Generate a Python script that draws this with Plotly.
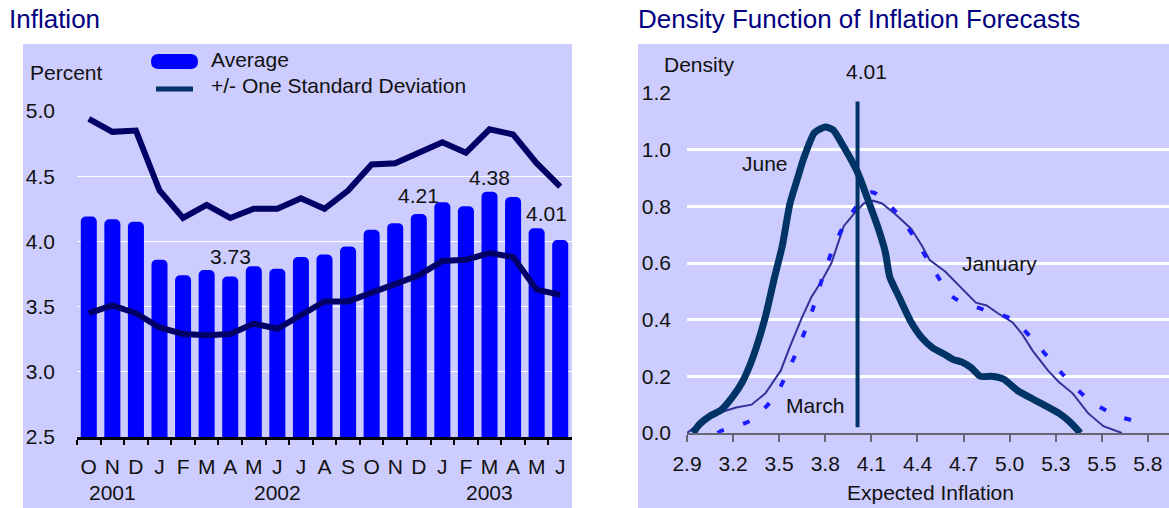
import plotly.graph_objects as go

W, H = 1169, 508
FONT = "Liberation Sans, Arial, sans-serif"

# ---- left chart: average inflation forecast and +/- one standard deviation
months = ["2001-10", "2001-11", "2001-12", "2002-01", "2002-02", "2002-03", "2002-04",
          "2002-05", "2002-06", "2002-07", "2002-08", "2002-09", "2002-10", "2002-11",
          "2002-12", "2003-01", "2003-02", "2003-03", "2003-04", "2003-05", "2003-06"]
month_letters = ["O", "N", "D", "J", "F", "M", "A", "M", "J", "J", "A", "S",
                 "O", "N", "D", "J", "F", "M", "A", "M", "J"]
average = [4.19, 4.17, 4.15, 3.86, 3.74, 3.78, 3.73, 3.81, 3.79, 3.88, 3.90,
           3.96, 4.09, 4.14, 4.21, 4.30, 4.27, 4.38, 4.34, 4.10, 4.01]
upper_sd = [4.94, 4.84, 4.85, 4.39, 4.18, 4.28, 4.18, 4.25, 4.25, 4.33, 4.25,
            4.39, 4.59, 4.60, 4.68, 4.76, 4.68, 4.86, 4.82, 4.60, 4.42]
lower_sd = [3.45, 3.51, 3.45, 3.34, 3.29, 3.28, 3.29, 3.37, 3.33, 3.43, 3.54,
            3.54, 3.61, 3.68, 3.74, 3.85, 3.86, 3.91, 3.88, 3.63, 3.59]
year_months = ["2001-11", "2002-06", "2003-03"]
year_labels = ["2001", "2002", "2003"]
labelled_months = ["2002-04", "2002-12", "2003-03", "2003-06"]
left_yticks = [2.5, 3.0, 3.5, 4.0, 4.5, 5.0]

# ---- right chart: density of inflation forecasts
june_x = [2.94, 2.98, 3.05, 3.12, 3.20, 3.26, 3.31, 3.35, 3.41, 3.47, 3.52, 3.57, 3.62,
          3.66, 3.73, 3.80, 3.85, 3.92, 4.01, 4.08, 4.14, 4.19, 4.22, 4.28, 4.36, 4.43,
          4.50, 4.57, 4.63, 4.69, 4.75, 4.81, 4.88, 4.96, 5.05, 5.15, 5.22, 5.32, 5.39, 5.46]
june_y = [0.00, 0.03, 0.06, 0.08, 0.13, 0.18, 0.24, 0.30, 0.41, 0.55, 0.66, 0.81, 0.90,
          0.97, 1.06, 1.08, 1.07, 1.01, 0.92, 0.82, 0.73, 0.64, 0.55, 0.48, 0.39, 0.335,
          0.30, 0.28, 0.26, 0.25, 0.23, 0.20, 0.20, 0.19, 0.15, 0.12, 0.10, 0.07, 0.04, 0.00]
march_x = [2.90, 2.98, 3.05, 3.13, 3.22, 3.32, 3.41, 3.51, 3.57, 3.65, 3.71, 3.78, 3.84,
           3.92, 3.99, 4.05, 4.11, 4.17, 4.26, 4.36, 4.43, 4.48, 4.58, 4.67, 4.78, 4.85,
           4.93, 5.02, 5.08, 5.15, 5.25, 5.32, 5.41, 5.51, 5.61, 5.73]
march_y = [0.00, 0.033, 0.055, 0.075, 0.09, 0.10, 0.14, 0.22, 0.305, 0.41, 0.48, 0.54, 0.60,
           0.73, 0.776, 0.81, 0.82, 0.81, 0.77, 0.72, 0.66, 0.61, 0.57, 0.52, 0.46, 0.45,
           0.42, 0.39, 0.35, 0.29, 0.22, 0.18, 0.14, 0.07, 0.024, 0.00]
january_x = [3.10, 3.12, 3.31, 3.47, 3.57, 3.65, 3.72, 3.78, 3.85, 3.94, 4.10, 4.25, 4.38,
             4.49, 4.63, 4.83, 5.02, 5.19, 5.34, 5.51, 5.70, 5.91]
january_y = [0.00, 0.007, 0.043, 0.128, 0.234, 0.335, 0.44, 0.545, 0.65, 0.75, 0.85, 0.786,
             0.69, 0.59, 0.48, 0.435, 0.40, 0.305, 0.21, 0.12, 0.06, 0.033]
current_x = [4.01, 4.01]
current_y = [0.02, 1.17]
right_xticks = [2.9, 3.2, 3.5, 3.8, 4.1, 4.4, 4.7, 5.0, 5.3, 5.6, 5.9]
right_xtext = ["2.9", "3.2", "3.5", "3.8", "4.1", "4.4", "4.7", "5.0", "5.3", "5.5", "5.8"]
right_yticks = [0.0, 0.2, 0.4, 0.6, 0.8, 1.0, 1.2]


def X(p):
    return p / W


def Y(p):
    return 1 - p / H


fig = go.Figure()

fig.add_trace(go.Bar(x=months, y=average, width=0.68, marker_color="#0000ff",
                     marker_line_width=0, xaxis="x", yaxis="y"))
fig.add_trace(go.Scatter(x=months, y=upper_sd, mode="lines",
                         line=dict(color="#000066", width=6), xaxis="x", yaxis="y"))
fig.add_trace(go.Scatter(x=months, y=lower_sd, mode="lines",
                         line=dict(color="#000066", width=6), xaxis="x", yaxis="y"))

fig.add_trace(go.Scatter(x=march_x, y=march_y, mode="lines",
                         line=dict(color="#333399", width=2), xaxis="x2", yaxis="y2"))
fig.add_trace(go.Scatter(x=january_x, y=january_y, mode="lines",
                         line=dict(color="#1a1aff", width=4, dash="7px,20px",
                                   shape="spline", smoothing=0.8),
                         xaxis="x2", yaxis="y2"))
fig.add_trace(go.Scatter(x=june_x, y=june_y, mode="lines",
                         line=dict(color="#003366", width=7, shape="spline", smoothing=0.6),
                         xaxis="x2", yaxis="y2"))
fig.add_trace(go.Scatter(x=current_x, y=current_y, mode="lines",
                         line=dict(color="#003366", width=4), xaxis="x2", yaxis="y2"))

# panel backgrounds
shapes = [
    dict(type="rect", xref="paper", yref="paper", x0=X(23), x1=X(572), y0=0, y1=Y(44),
         fillcolor="#ccccff", line_width=0, layer="below"),
    dict(type="rect", xref="paper", yref="paper", x0=X(638), x1=1, y0=0, y1=Y(44),
         fillcolor="#ccccff", line_width=0, layer="below"),
]

# legend marks (pill for the bars, short line for the deviation band)
l, r, t, b = 151, 198, 54, 69
rad = (b - t) / 2
pill = (f"M {X(l + rad)},{Y(t)} L {X(r - rad)},{Y(t)} "
        f"Q {X(r)},{Y(t)} {X(r)},{Y(t + rad)} Q {X(r)},{Y(b)} {X(r - rad)},{Y(b)} "
        f"L {X(l + rad)},{Y(b)} Q {X(l)},{Y(b)} {X(l)},{Y(t + rad)} "
        f"Q {X(l)},{Y(t)} {X(l + rad)},{Y(t)} Z")
shapes.append(dict(type="path", xref="paper", yref="paper", path=pill,
                   fillcolor="#0000ff", line_width=0))
shapes.append(dict(type="line", xref="paper", yref="paper", x0=X(156), x1=X(193),
                   y0=Y(89), y1=Y(89), line=dict(color="#003366", width=5)))

ann = []
SMALL = 21


def text(s, x, y, size=SMALL, color="#111111", xanchor="center"):
    ann.append(dict(text=s, x=X(x), y=Y(y), xref="paper", yref="paper",
                    xanchor=xanchor, yanchor="middle", showarrow=False,
                    font=dict(size=size, color=color)))


text("Inflation", 7, 19, size=26, color="#000080", xanchor="left")
text("Density Function of Inflation Forecasts", 636, 19, size=26, color="#000080",
     xanchor="left")
text("Percent", 28, 73, xanchor="left")
text("Average", 209, 59, xanchor="left")
text("+/- One Standard Deviation", 209, 85, xanchor="left")
text("Density", 662, 64, xanchor="left")
text("4.01", 866, 72)
text("June", 765, 163)
text("January", 999, 263)
text("March", 815, 405)
text("Expected Inflation", 931, 492)

# year labels under the month letters
for m, yr in zip(year_months, year_labels):
    ann.append(dict(text=yr, x=m, y=Y(492), xref="x", yref="paper", yanchor="middle",
                    showarrow=False, font=dict(size=SMALL, color="#111111")))

# value labels over selected bars
label_offsets = {"2002-04": (0, 20), "2002-12": (0, 19), "2003-03": (0, 14), "2003-06": (-14, 27)}
for m in labelled_months:
    v = average[months.index(m)]
    dx, dy = label_offsets[m]
    ann.append(dict(text=f"{v:.2f}", x=m, y=v, xref="x", yref="y", yanchor="middle",
                    xshift=dx, yshift=dy, showarrow=False,
                    font=dict(size=SMALL, color="#111111")))

fig.update_layout(
    width=W, height=H,
    margin=dict(l=0, r=0, t=0, b=0, autoexpand=False),
    paper_bgcolor="white", plot_bgcolor="rgba(0,0,0,0)",
    showlegend=False, barcornerradius=5,
    font=dict(family=FONT, size=SMALL, color="#111111"),
    shapes=shapes, annotations=ann,
    xaxis=dict(domain=[X(77), X(572)], anchor="y", type="category", automargin=False,
               range=[-0.5, len(months) - 0.5], tickmode="array",
               tickvals=months, ticktext=month_letters, tickson="boundaries",
               tickangle=0, ticks="outside", ticklen=5, tickwidth=2, tickcolor="#000000",
               showline=True, linecolor="#000000", linewidth=3, showgrid=False,
               ticklabelstandoff=9, fixedrange=True),
    yaxis=dict(domain=[Y(437), Y(111)], anchor="x", range=[2.5, 5.0], automargin=False,
               tickmode="array", tickvals=left_yticks, tickformat=".1f",
               showgrid=True, gridcolor="white", gridwidth=1, zeroline=False,
               ticks="", ticklabelstandoff=21, fixedrange=True),
    xaxis2=dict(domain=[X(687), 1], anchor="y2", range=[2.9, 6.037], automargin=False,
                tickmode="array", tickvals=right_xticks, ticktext=right_xtext,
                tickangle=0, ticks="outside", ticklen=7, tickwidth=2, tickcolor="#666677",
                showline=True, linecolor="#666677", linewidth=2, showgrid=False,
                zeroline=False, ticklabelstandoff=4, fixedrange=True),
    yaxis2=dict(domain=[Y(433), Y(93)], anchor="x2", range=[0, 1.2], automargin=False,
                tickmode="array", tickvals=right_yticks, tickformat=".1f",
                showgrid=True, gridcolor="white", gridwidth=2.5, zeroline=False,
                ticks="", ticklabelstandoff=15, fixedrange=True),
)

# the page body has a default margin; drop it so the figure sits at the window corner
fig.write_html("out.html", config={"displayModeBar": False},
               post_script="document.body.style.margin='0';")
